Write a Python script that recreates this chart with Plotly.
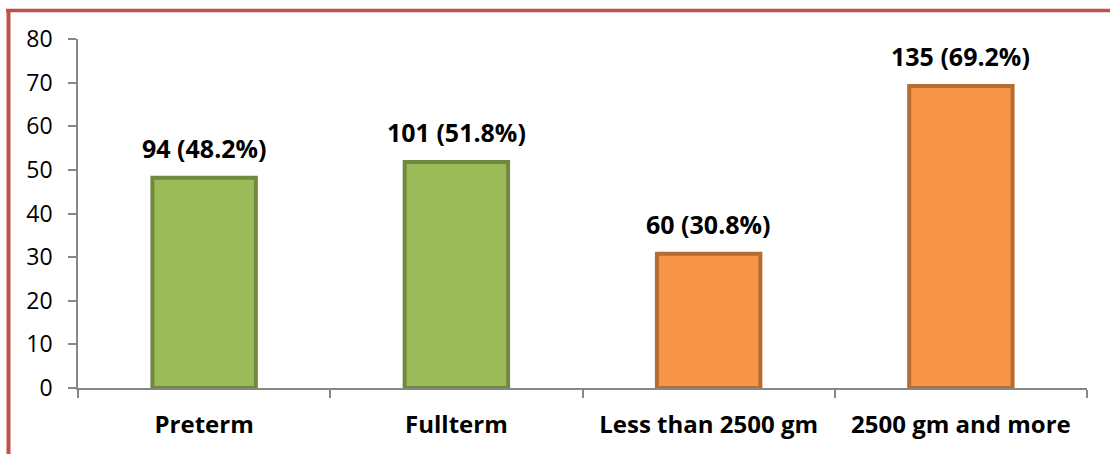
import plotly.graph_objects as go

categories = ["Preterm", "Fullterm", "Less than 2500 gm", "2500 gm and more"]
counts = [94, 101, 60, 135]
percents = [48.2, 51.8, 30.8, 69.2]
fill_colors = ["#9BBB59", "#9BBB59", "#F79646", "#F79646"]
line_colors = ["#71893F", "#71893F", "#B66D31", "#B66D31"]
y_ticks = [0, 10, 20, 30, 40, 50, 60, 70, 80]

labels = [f"{c} ({p}%)" for c, p in zip(counts, percents)]

fig = go.Figure(go.Bar(
    x=categories, y=percents, width=0.41,
    marker=dict(color=fill_colors, line=dict(color=line_colors, width=4)),
    hoverinfo="skip",
))

for cat, val, lab in zip(categories, percents, labels):
    fig.add_annotation(x=cat, y=val, text=lab, showarrow=False, yanchor="bottom", yshift=11,
                       font=dict(family="Open Sans", size=25, color="black", weight="bold"))

W, H = 1110, 454
L, R, T, B = 78, 23, 39, 66
pw, ph = W - L - R, H - T - B

def px(x):
    return (x - L) / pw

def py(y):
    return (H - B - y) / ph

border = "#C0504D"
fig.add_shape(type="line", xref="paper", yref="paper", x0=px(6), x1=px(W + 5), y0=py(10.5), y1=py(10.5),
              line=dict(color=border, width=3.5))
fig.add_shape(type="line", xref="paper", yref="paper", x0=px(8.5), x1=px(8.5), y0=py(9), y1=py(H + 5),
              line=dict(color=border, width=4))

fig.update_layout(
    width=W, height=H, margin=dict(l=L, r=R, t=T, b=B),
    plot_bgcolor="white", paper_bgcolor="white", showlegend=False,
    font=dict(family="Open Sans", color="black"),
    xaxis=dict(showline=True, linecolor="#868686", linewidth=1.5, ticks="outside", tickson="boundaries",
               ticklen=8, tickcolor="#868686", tickwidth=1.5, ticklabelstandoff=14,
               tickfont=dict(family="Open Sans", size=24, color="black", weight="bold"), showgrid=False),
    yaxis=dict(range=[0, 80], tickvals=y_ticks, showline=True, linecolor="#868686", linewidth=1.5,
               ticks="outside", ticklen=8, tickcolor="#868686", tickwidth=1.5, showgrid=False,
               ticklabelstandoff=11, zeroline=False,
               tickfont=dict(family="Open Sans", size=23, color="black")),
)

fig.write_html("out.html")
